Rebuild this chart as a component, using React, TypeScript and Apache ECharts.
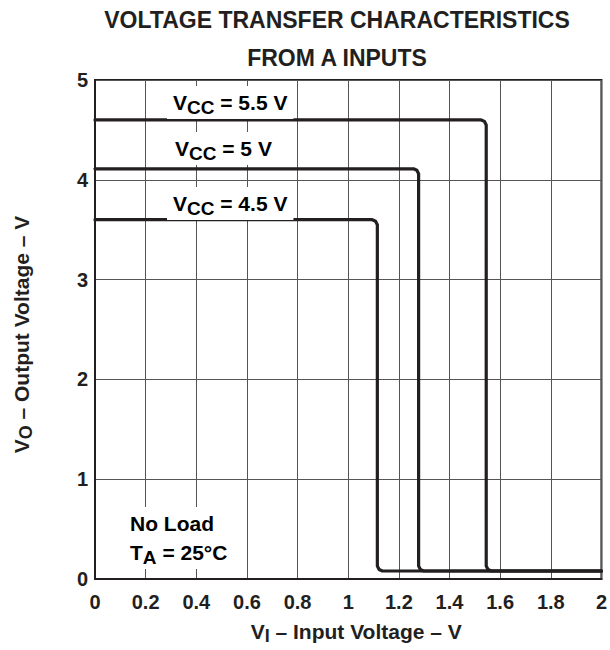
import React, { useEffect, useRef } from "react";
import * as echarts from "echarts";

const xTickLabels = ["0", "0.2", "0.4", "0.6", "0.8", "1", "1.2", "1.4", "1.6", "1.8", "2"];
const yTickLabels = ["0", "1", "2", "3", "4", "5"];

// Vcc = 5.5 V curve (Vi, Vo)
const vcc55: [number, number][] = [
  [0, 4.6], [1.525, 4.6], [1.538, 4.585], [1.545, 4.55],
  [1.545, 0.13], [1.552, 0.095], [1.565, 0.08], [2, 0.08],
];
// Vcc = 5 V curve
const vcc50: [number, number][] = [
  [0, 4.11], [1.258, 4.11], [1.271, 4.095], [1.278, 4.06],
  [1.278, 0.13], [1.285, 0.095], [1.298, 0.08], [2, 0.08],
];
// Vcc = 4.5 V curve
const vcc45: [number, number][] = [
  [0, 3.6], [1.095, 3.6], [1.108, 3.585], [1.115, 3.55],
  [1.115, 0.13], [1.122, 0.095], [1.135, 0.08], [2, 0.08],
];

const FONT = "'Liberation Sans', Arial, Helvetica, sans-serif";
const INK = "#231f20";

export default function App() {
  const ref = useRef<HTMLDivElement>(null);
  useEffect(() => {
    document.body.style.margin = "0";
    document.body.style.overflow = "hidden";
    if (!ref.current) return;
    const chart = echarts.init(ref.current, undefined, { renderer: "svg" });
    const lineSeries = (name: string, data: [number, number][]) => ({
      name,
      type: "line",
      data,
      showSymbol: false,
      symbol: "none",
      z: 3,
      lineStyle: { color: INK, width: 3.2, join: "round", cap: "round" },
    });
    const richMain = { fontFamily: FONT, fontWeight: "bold", fontSize: 21, color: INK, verticalAlign: "middle" };
    const richSub = {
      fontFamily: FONT, fontWeight: "bold", fontSize: 19, color: INK,
      padding: [10, 0, 0, 0], verticalAlign: "middle",
    };
    const labelText = (x: number, y: number, text: string) => ({
      type: "text",
      left: x,
      top: y,
      z: 10,
      style: {
        text,
        rich: { m: richMain, s: richSub },
        backgroundColor: "#fff",
        padding: [2, 6, 2, 6],
      },
    });
    const nameRich = {
      m: { fontFamily: FONT, fontWeight: "bold", fontSize: 21, color: INK, verticalAlign: "middle" },
      s: {
        fontFamily: FONT, fontWeight: "bold", fontSize: 18, color: INK,
        padding: [10, 0, 0, 0], verticalAlign: "middle",
      },
    };
    chart.setOption({
      animation: false,
      backgroundColor: "#fff",
      title: {
        text: "VOLTAGE TRANSFER CHARACTERISTICS\nFROM A INPUTS",
        left: 337,
        textAlign: "center",
        top: 1,
        padding: 0,
        textStyle: { fontFamily: FONT, fontWeight: "bold", fontSize: 23, color: INK, lineHeight: 38 },
      },
      grid: {
        left: 95, right: 8, top: 80, bottom: 64,
        show: true, borderColor: INK, borderWidth: 2, backgroundColor: "transparent",
      },
      xAxis: {
        type: "value",
        min: 0, max: 2, interval: 0.2,
        name: "{m|V}{s|I}{m| – Input Voltage – V}",
        nameLocation: "middle",
        nameGap: 38,
        nameTextStyle: { rich: nameRich, padding: [0, 0, 0, 16] },
        axisLine: { show: true, lineStyle: { color: INK, width: 2 } },
        axisTick: { show: false },
        splitLine: { show: true, lineStyle: { color: "#555", width: 1 } },
        axisLabel: {
          formatter: (v: number) => xTickLabels[Math.round(v / 0.2)] ?? "",
          fontFamily: FONT, fontWeight: "bold", fontSize: 20, color: INK, margin: 13,
        },
      },
      yAxis: {
        type: "value",
        min: 0, max: 5, interval: 1,
        name: "{m|V}{s|O}{m| – Output Voltage – V}",
        nameLocation: "middle",
        nameRotate: 90,
        nameGap: 60,
        nameTextStyle: { rich: nameRich, padding: [0, 10, 0, 0] },
        axisLine: { show: true, lineStyle: { color: INK, width: 2 } },
        axisTick: { show: false },
        splitLine: { show: true, lineStyle: { color: "#555", width: 1 } },
        axisLabel: {
          formatter: (v: number) => yTickLabels[Math.round(v)] ?? "",
          fontFamily: FONT, fontWeight: "bold", fontSize: 20, color: INK, margin: 7,
          padding: [6, 0, 0, 0],
        },
      },
      series: [
        lineSeries("VCC = 5.5 V", vcc55),
        lineSeries("VCC = 5 V", vcc50),
        lineSeries("VCC = 4.5 V", vcc45),
      ],
      graphic: [
        labelText(167, 86, "{m|V}{s|CC}{m| = 5.5 V}"),
        labelText(169, 132, "{m|V}{s|CC}{m| = 5 V}"),
        labelText(167, 187, "{m|V}{s|CC}{m| = 4.5 V}"),
        {
          type: "text",
          left: 122,
          top: 507,
          z: 10,
          style: {
            text: "{m|No Load}\n{m|T}{s|A}{m| = 25°C}",
            rich: {
              m: { ...richMain, lineHeight: 29 },
              s: { ...richSub, lineHeight: 29 },
            },
            backgroundColor: "#fff",
            padding: [2, 8, 2, 8],
          },
        },
      ],
    });
    return () => chart.dispose();
  }, []);
  return <div ref={ref} style={{ width: 610, height: 650 }} />;
}
